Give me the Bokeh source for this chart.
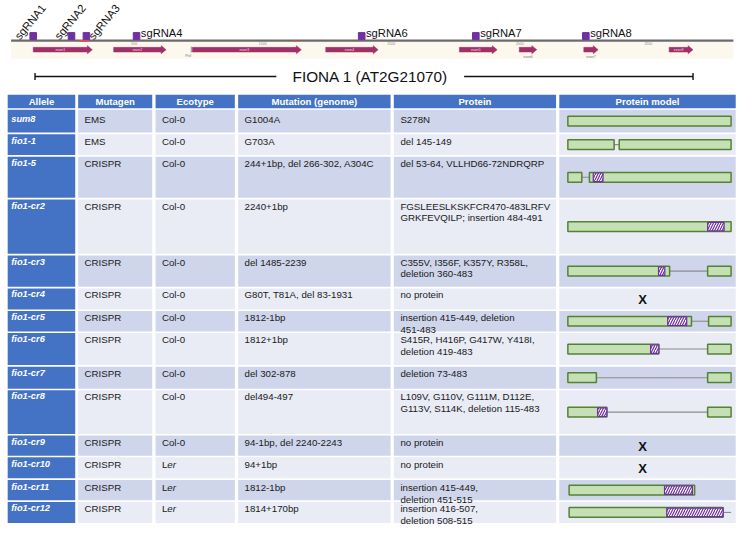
from bokeh.plotting import figure
from bokeh.models import Range1d
from bokeh.core.properties import value
from bokeh.embed import file_html
from bokeh.resources import INLINE

# ---------------- gene model data (bp) ----------------
exon_names = ["exon1", "exon2", "exon3", "exon4", "exon5", "exon6", "exon7", "exon8"]
exon_start = [107, 420, 726, 1245, 1765, 1998, 2249, 2581]
exon_end = [337, 624, 1150, 1449, 1912, 2066, 2305, 2674]
exon_label_inside = [True, True, True, True, True, False, False, True]
sgrna_names = ["sgRNA1", "sgRNA2", "sgRNA3", "sgRNA4", "sgRNA6", "sgRNA7", "sgRNA8"]
sgrna_pos = [107, 256, 314, 509, 1385, 1829, 2257]
sgrna_rotated = [True, True, True, False, False, False, False]
ruler_ticks = [500, 1000, 1500, 2000, 2500]
region_span = [21, 2831]
gene_span = [114, 2674]
psti_pos = 722
red_mark_start = [286, 1122]
red_mark_end = [324, 1132]
gene_label = "FIONA 1 (AT2G21070)"

# ---------------- table data ----------------
headers = ["Allele", "Mutagen", "Ecotype", "Mutation (genome)", "Protein", "Protein model"]
alleles = ["sum8", "fio1-1", "fio1-5", "fio1-cr2", "fio1-cr3", "fio1-cr4", "fio1-cr5",
           "fio1-cr6", "fio1-cr7", "fio1-cr8", "fio1-cr9", "fio1-cr10", "fio1-cr11", "fio1-cr12"]
mutagens = ["EMS", "EMS", "CRISPR", "CRISPR", "CRISPR", "CRISPR", "CRISPR",
            "CRISPR", "CRISPR", "CRISPR", "CRISPR", "CRISPR", "CRISPR", "CRISPR"]
ecotypes = ["Col-0", "Col-0", "Col-0", "Col-0", "Col-0", "Col-0", "Col-0",
            "Col-0", "Col-0", "Col-0", "Col-0", "Ler", "Ler", "Ler"]
mutations = ["G1004A", "G703A", "244+1bp, del 266-302, A304C", "2240+1bp", "del 1485-2239",
             "G80T, T81A, del 83-1931", "1812-1bp", "1812+1bp", "del 302-878", "del494-497",
             "94-1bp, del 2240-2243", "94+1bp", "1812-1bp", "1814+170bp"]
proteins = ["S278N",
            "del 145-149",
            "del 53-64, VLLHD66-72NDRQRP",
            "FGSLEESLKSKFCR470-483LRFV\nGRKFEVQILP; insertion 484-491",
            "C355V, I356F, K357Y, R358L,\ndeletion 360-483",
            "no protein",
            "insertion 415-449, deletion\n451-483",
            "S415R,  H416P, G417W, Y418I,\ndeletion 419-483",
            "deletion 73-483",
            "L109V, G110V, G111M, D112E,\nG113V, S114K, deletion 115-483",
            "no protein",
            "no protein",
            "insertion 415-449,\ndeletion 451-515",
            "insertion 416-507,\ndeletion 508-515"]

# protein model (amino-acid coordinates)
protein_length = 515
box_allele = ["sum8", "fio1-1", "fio1-1", "fio1-5", "fio1-5", "fio1-cr2", "fio1-cr3", "fio1-cr3",
              "fio1-cr5", "fio1-cr5", "fio1-cr6", "fio1-cr6", "fio1-cr7", "fio1-cr7",
              "fio1-cr8", "fio1-cr8", "fio1-cr11", "fio1-cr12"]
box_start = [0, 0, 162, 0, 68, 0, 0, 441, 0, 444, 0, 441, 0, 441, 0, 441, 4, 4]
box_end = [515, 146, 515, 44, 515, 515, 321, 515, 390, 515, 287, 515, 90, 515, 123, 515, 400, 490]
hatch_allele = ["fio1-5", "fio1-cr2", "fio1-cr3", "fio1-cr5", "fio1-cr6", "fio1-cr8", "fio1-cr11", "fio1-cr12"]
hatch_start = [80, 441, 286, 315, 261, 94, 305, 312]
hatch_end = [111, 493, 306, 375, 287, 123, 393, 490]
link_allele = ["fio1-1", "fio1-5", "fio1-cr3", "fio1-cr5", "fio1-cr6", "fio1-cr7", "fio1-cr8", "fio1-cr12"]
link_start = [146, 44, 321, 390, 287, 90, 123, 490]
link_end = [162, 68, 441, 444, 441, 441, 441, 515]
no_protein_alleles = ["fio1-cr4", "fio1-cr9", "fio1-cr10"]

# ---------------- layout (page units) ----------------
X0, X1, Y0, Y1 = 0, 748.5, 0, 542
GENE_X0, PX_PER_BP = 5.3, 0.2614
LINE_Y, BAND_TOP, BAND_BOT, EXON_Y = 41.3, 42.7, 60.0, 50.7
LABEL_Y, LABEL_CX, LABEL_HALF = 78.3, 376, 95.5
rot_label_dx = [-16.6, -15.0, 4.4]
ROT_LABEL_Y = 38.6
col_left = [7.3, 79, 157.7, 241.7, 400, 568.3]
col_right = [76, 154.3, 238.3, 396.7, 565, 747.7]
HEAD_TOP, HEAD_BOT = 97, 111
ROW0 = 112.7
row_pitch = [25, 23.3, 44, 57.7, 34, 23.3, 22.7, 34.6, 24.4, 46.6, 22.4, 23.3, 22.7, 23.3]
text_pad = [4.6, 1.8, 1.8, 1.2, 1.2, 1.0, 1.2, 1.2, 1.6, 0.8, 1.4, 2.0, 2.0, 1.2]
GAP = 1.7
MODEL_X0, MODEL_X1 = 577, 743
X_MARK_AA = 236

BLUE = "#4472C4"
DARK = "#CFD5EA"
LIGHT = "#E9EBF5"
FONT = value("Liberation Sans")

p = figure(width=736, height=526, x_range=Range1d(X0, X1), y_range=Range1d(Y1, Y0),
           output_backend="svg", toolbar_location=None, min_border=0,
           x_axis_location=None, y_axis_location=None)
p.grid.visible = False
p.outline_line_color = None
p.background_fill_color = "white"
p.border_fill_color = "white"
aa_scale = (MODEL_X1 - MODEL_X0) / protein_length
p.extra_x_ranges = {
    "bp": Range1d((X0 - GENE_X0) / PX_PER_BP, (X1 - GENE_X0) / PX_PER_BP),
    "aa": Range1d((X0 - MODEL_X0) / aa_scale, (X1 - MODEL_X0) / aa_scale),
}

# ---------------- gene model ----------------
p.quad(left=[region_span[0]], right=[region_span[1]], top=[BAND_TOP], bottom=[BAND_BOT],
       fill_color="#FCF8EE", line_color=None, x_range_name="bp")
p.segment(x0=[region_span[0]], x1=[region_span[1]], y0=[LINE_Y], y1=[LINE_Y],
          line_color="#6B6B6B", line_width=2.2, x_range_name="bp")
p.segment(x0=red_mark_start, x1=red_mark_end, y0=[LINE_Y + 0.6] * 2, y1=[LINE_Y + 0.6] * 2,
          line_color="#F0504A", line_width=1.6, x_range_name="bp")
p.text(x=ruler_ticks, y=[LINE_Y + 1.5] * len(ruler_ticks), text=[str(t) for t in ruler_ticks],
       text_font=FONT, text_font_size="3.5px", text_color="#8A8A8A", text_baseline="top",
       text_align="center", x_range_name="bp")
# PstI marker
p.quad(left=[psti_pos - 2], right=[psti_pos + 2], top=[47.5], bottom=[53.5],
       fill_color="#9A9A9A", line_color=None, x_range_name="bp")
p.text(x=[psti_pos], y=[55], text=["PstI"], text_font=FONT, text_font_size="3.5px",
       text_color="#777777", text_baseline="top", text_align="right", x_range_name="bp")

head_bp = 5.0 / PX_PER_BP
xs, ys = [], []
for s, e in zip(exon_start, exon_end):
    hb = e - head_bp
    xs.append([s, hb, hb, e, hb, hb, s])
    ys.append([EXON_Y - 2.4, EXON_Y - 2.4, EXON_Y - 4.2, EXON_Y, EXON_Y + 4.2, EXON_Y + 2.4, EXON_Y + 2.4])
p.patches(xs=xs, ys=ys, fill_color="#A0306A", line_color="#A0306A", line_width=0.5, x_range_name="bp")
in_x = [(s + e - head_bp) / 2 for s, e, f in zip(exon_start, exon_end, exon_label_inside) if f]
in_t = [n for n, f in zip(exon_names, exon_label_inside) if f]
out_x = [(s + e) / 2 for s, e, f in zip(exon_start, exon_end, exon_label_inside) if not f]
out_t = [n for n, f in zip(exon_names, exon_label_inside) if not f]
p.text(x=in_x, y=[EXON_Y] * len(in_x), text=in_t, text_font=FONT, text_font_size="3.5px",
       text_color="#F3D6E4", text_baseline="middle", text_align="center", x_range_name="bp")
p.text(x=out_x, y=[EXON_Y + 5.5] * len(out_x), text=out_t, text_font=FONT, text_font_size="3.5px",
       text_color="#777777", text_baseline="top", text_align="center", x_range_name="bp")

# sgRNA boxes and labels
p.rect(x=sgrna_pos, y=[LINE_Y - 4.6] * len(sgrna_pos), width=6.6, height=7,
       width_units="screen", height_units="screen",
       fill_color="#7030A0", line_color="#7030A0", x_range_name="bp")
rot_x = [x + d / PX_PER_BP for x, d in
         zip([x for x, r in zip(sgrna_pos, sgrna_rotated) if r], rot_label_dx)]
rot_t = [n for n, r in zip(sgrna_names, sgrna_rotated) if r]
p.text(x=rot_x, y=[ROT_LABEL_Y] * len(rot_x), text=rot_t, angle=0.88,
       text_font=FONT, text_font_size="11.2px", text_color="#111111",
       text_baseline="alphabetic", text_align="left", x_range_name="bp")
hor_x = [x for x, r in zip(sgrna_pos, sgrna_rotated) if not r]
hor_t = [n for n, r in zip(sgrna_names, sgrna_rotated) if not r]
p.text(x=hor_x, y=[33.4] * len(hor_x), text=hor_t, x_offset=4.3, text_font=FONT,
       text_font_size="11.2px", text_color="#111111", text_baseline="alphabetic",
       text_align="left", x_range_name="bp")

# gene extent with label
p.segment(x0=[gene_span[0]], x1=[gene_span[1]], y0=[LABEL_Y], y1=[LABEL_Y],
          line_color="#111111", line_width=1.4, x_range_name="bp")
p.segment(x0=gene_span, x1=gene_span, y0=[LABEL_Y - 3.6] * 2, y1=[LABEL_Y + 3.6] * 2,
          line_color="#111111", line_width=1.4, x_range_name="bp")
p.quad(left=[LABEL_CX - LABEL_HALF], right=[LABEL_CX + LABEL_HALF], top=[LABEL_Y - 9],
       bottom=[LABEL_Y + 9], fill_color="white", line_color=None)
p.text(x=[LABEL_CX], y=[LABEL_Y], text=[gene_label], text_font=FONT, text_font_size="15.3px",
       text_color="#111111", text_baseline="middle", text_align="center")

# ---------------- table ----------------
p.quad(left=col_left, right=col_right, top=[HEAD_TOP] * 6, bottom=[HEAD_BOT] * 6,
       fill_color=BLUE, line_color=None)
p.text(x=[(l + r) / 2 for l, r in zip(col_left, col_right)], y=[(HEAD_TOP + HEAD_BOT) / 2 + 0.3] * 6,
       text=headers, text_font=FONT, text_font_size="9.6px", text_font_style="bold",
       text_color="white", text_baseline="middle", text_align="center")

row_top, row_bot = [], []
y = ROW0
for h in row_pitch:
    row_top.append(y)
    row_bot.append(y + h - GAP)
    y += h
row_of = {a: i for i, a in enumerate(alleles)}
row_mid = [(t + b) / 2 for t, b in zip(row_top, row_bot)]

cl, cr, ct, cb, cc = [], [], [], [], []
for i in range(len(alleles)):
    for j in range(6):
        cl.append(col_left[j]); cr.append(col_right[j])
        ct.append(row_top[i]); cb.append(row_bot[i])
        cc.append(BLUE if j == 0 else (DARK if i % 2 == 0 else LIGHT))
p.quad(left=cl, right=cr, top=ct, bottom=cb, fill_color=cc, line_color=None)

ty = [t + pd for t, pd in zip(row_top, text_pad)]
body = dict(text_font=FONT, text_font_size="9.7px", text_color="#1A1A1A",
            text_baseline="top", text_align="left", text_line_height=1.08)
p.text(x=[col_left[0] + 3.6] * len(alleles), y=ty, text=alleles, text_font=FONT,
       text_font_size="9.3px", text_font_style="bold italic", text_color="white",
       text_baseline="top", text_align="left")
p.text(x=[col_left[1] + 6.5] * len(alleles), y=ty, text=mutagens, **body)
# ecotype: "Ler" is written with an italic "er"
eco_first = [e if e != "Ler" else "L" for e in ecotypes]
p.text(x=[col_left[2] + 6.5] * len(alleles), y=ty, text=eco_first, **body)
ler_y = [y_ for y_, e in zip(ty, ecotypes) if e == "Ler"]
p.text(x=[col_left[2] + 6.5] * len(ler_y), y=ler_y, text=["er"] * len(ler_y), x_offset=5.4,
       text_font_style="italic", **body)
p.text(x=[col_left[3] + 6.5] * len(alleles), y=ty, text=mutations, **body)
p.text(x=[col_left[4] + 6.7] * len(alleles), y=ty, text=proteins, **body)

# protein models
BAR_H = 5.0
p.segment(x0=link_start, x1=link_end, y0=[row_mid[row_of[a]] for a in link_allele],
          y1=[row_mid[row_of[a]] for a in link_allele], line_color="#8C8C8C", line_width=1.1,
          x_range_name="aa")
p.quad(left=box_start, right=box_end, top=[row_mid[row_of[a]] - BAR_H for a in box_allele],
       bottom=[row_mid[row_of[a]] + BAR_H for a in box_allele], fill_color="#C5E0B4",
       line_color="#548235", line_width=1.5, x_range_name="aa")
p.quad(left=hatch_start, right=hatch_end, top=[row_mid[row_of[a]] - BAR_H + 0.6 for a in hatch_allele],
       bottom=[row_mid[row_of[a]] + BAR_H - 0.6 for a in hatch_allele], fill_color="white",
       hatch_pattern="/", hatch_color="#7030A0", hatch_scale=5, hatch_weight=1.2,
       line_color="#7030A0", line_width=1.2, x_range_name="aa")
p.text(x=[X_MARK_AA] * len(no_protein_alleles), y=[row_mid[row_of[a]] + 0.5 for a in no_protein_alleles],
       text=["X"] * len(no_protein_alleles), text_font=FONT, text_font_size="13px",
       text_font_style="bold", text_color="#111111", text_baseline="middle",
       text_align="center", x_range_name="aa")

open("out.html", "w").write(file_html(p, INLINE))
